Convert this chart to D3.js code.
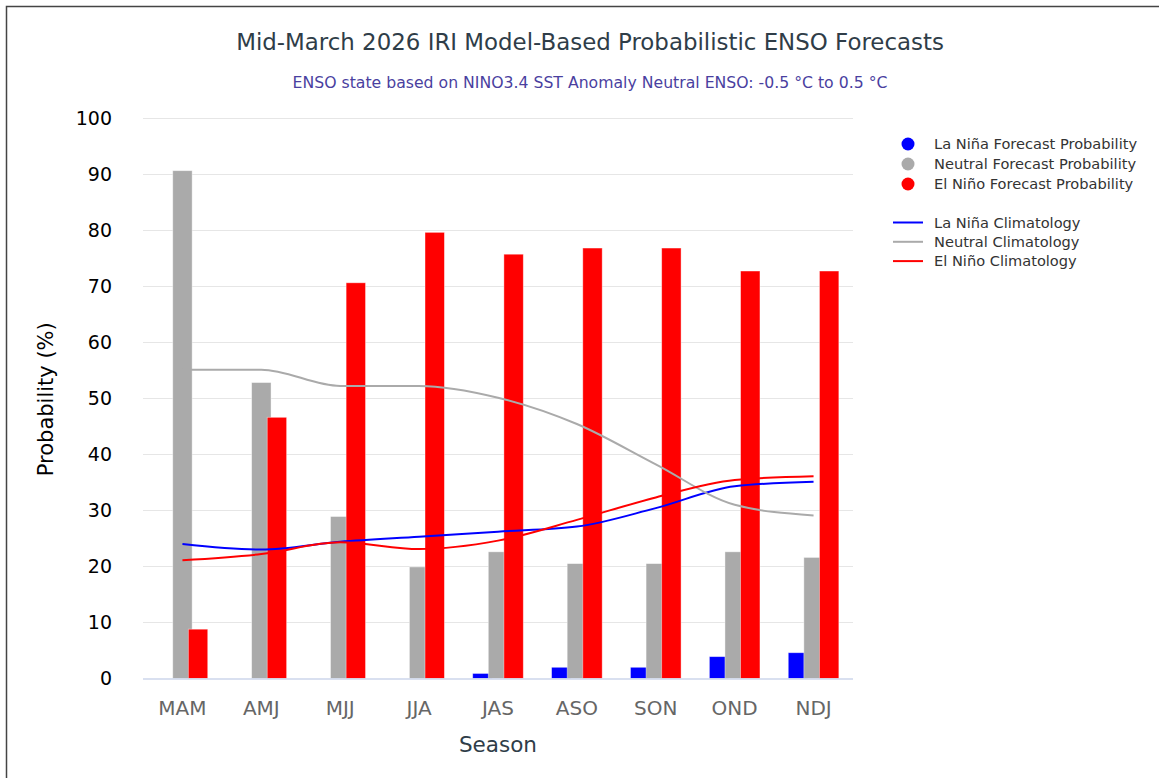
<!DOCTYPE html>
<html>
<head>
<meta charset="utf-8">
<script src="https://cdn.jsdelivr.net/npm/d3@7"></script>
<style>
  html, body { margin: 0; padding: 0; background: #fff; }
  svg { display: block; font-family: "DejaVu Sans", Verdana, sans-serif; }
</style>
</head>
<body>
<div id="chart"></div>
<script>
// seasons (x categories)
const seasons = ['MAM', 'AMJ', 'MJJ', 'JJA', 'JAS', 'ASO', 'SON', 'OND', 'NDJ'];

// forecast probabilities (%)
const laNinaForecast = [0, 0, 0, 0, 0.9, 2, 2, 3.9, 4.6];
const neutralForecast = [90.6, 52.8, 28.9, 19.9, 22.6, 20.5, 20.5, 22.6, 21.6];
const elNinoForecast = [8.8, 46.6, 70.6, 79.6, 75.7, 76.8, 76.8, 72.7, 72.7];

// climatology (%)
const laNinaClim = [24.0, 23.0, 24.4, 25.3, 26.2, 27.1, 30.4, 34.3, 35.1];
const neutralClim = [55.1, 55.1, 52.2, 52.2, 50.1, 45.4, 38.2, 31.0, 29.1];
const elNinoClim = [21.1, 22.2, 24.3, 23.1, 24.6, 28.3, 32.3, 35.4, 36.1];

const yTicks = [0, 10, 20, 30, 40, 50, 60, 70, 80, 90, 100];

const barSeries = [
  { name: 'La Niña Forecast Probability', values: laNinaForecast, color: '#0000ff' },
  { name: 'Neutral Forecast Probability', values: neutralForecast, color: '#aaaaaa' },
  { name: 'El Niño Forecast Probability', values: elNinoForecast, color: '#ff0000' },
];
const lineSeries = [
  { name: 'La Niña Climatology', values: laNinaClim, color: '#0000ff' },
  { name: 'Neutral Climatology', values: neutralClim, color: '#aaaaaa' },
  { name: 'El Niño Climatology', values: elNinoClim, color: '#ff0000' },
];

const width = 1159;
const height = 778;
const plot = { left: 143, right: 853, top: 118, bottom: 678.5 };

const svg = d3.select('#chart').append('svg')
  .attr('width', width)
  .attr('height', height);

/* frame of the original page */
svg.append('rect')
  .attr('x', 6.5).attr('y', 6.5)
  .attr('width', width + 20).attr('height', height + 20)
  .attr('fill', 'none')
  .attr('stroke', '#444')
  .attr('stroke-width', 1.5);

/* scales */
const x = d3.scaleBand().domain(seasons).range([plot.left, plot.right]).padding(0);
const y = d3.scaleLinear().domain([0, 100]).range([plot.bottom, plot.top]);

/* grid lines */
svg.append('g')
  .selectAll('line')
  .data(yTicks.filter(d => d > 0))
  .join('line')
  .attr('x1', plot.left).attr('x2', plot.right)
  .attr('y1', d => Math.round(y(d)) + 0.5).attr('y2', d => Math.round(y(d)) + 0.5)
  .attr('stroke', '#e6e6e6')
  .attr('stroke-width', 1);

/* y axis labels */
const yAxis = d3.axisLeft(y).tickValues(yTicks).tickSize(0).tickPadding(0);
svg.append('g')
  .attr('transform', 'translate(112,0)')
  .call(yAxis)
  .call(g => g.select('.domain').remove())
  .call(g => g.selectAll('text')
    .attr('font-family', '"DejaVu Sans", Verdana, sans-serif')
    .attr('font-size', 19)
    .attr('fill', '#000'));

svg.append('text')
  .attr('transform', `translate(53,${(plot.top + plot.bottom) / 2 + 1})rotate(-90)`)
  .attr('text-anchor', 'middle')
  .attr('font-size', 21)
  .attr('fill', '#000')
  .text('Probability (%)');

/* bars */
const barW = 19.4;
const offsets = [-15.6, 0, 15.6];
barSeries.forEach((s, i) => {
  svg.append('g')
    .selectAll('rect')
    .data(s.values.map((v, j) => ({ season: seasons[j], value: v })))
    .join('rect')
    .attr('x', d => x(d.season) + x.bandwidth() / 2 + offsets[i] - barW / 2)
    .attr('y', d => y(d.value))
    .attr('width', barW)
    .attr('height', d => y(0) - y(d.value))
    .attr('fill', s.color)
    .attr('stroke', '#fff')
    .attr('stroke-opacity', 0.5)
    .attr('stroke-width', 0.8);
});

/* x axis */
svg.append('line')
  .attr('x1', plot.left).attr('x2', plot.right)
  .attr('y1', plot.bottom + 0.5).attr('y2', plot.bottom + 0.5)
  .attr('stroke', '#ccd6eb')
  .attr('stroke-width', 1.5);

const xAxis = d3.axisBottom(x).tickSize(0).tickPadding(0);
svg.append('g')
  .attr('transform', `translate(0,${plot.bottom + 22})`)
  .call(xAxis)
  .call(g => g.select('.domain').remove())
  .call(g => g.selectAll('text')
    .attr('font-family', '"DejaVu Sans", Verdana, sans-serif')
    .attr('font-size', 20)
    .attr('fill', '#666'));

svg.append('text')
  .attr('x', (plot.left + plot.right) / 2)
  .attr('y', 752)
  .attr('text-anchor', 'middle')
  .attr('font-size', 21.5)
  .attr('fill', '#2f3d48')
  .text('Season');

/* climatology lines */
const line = d3.line()
  .x((d, j) => x(seasons[j]) + x.bandwidth() / 2)
  .y(d => y(d))
  .curve(d3.curveMonotoneX);

lineSeries.forEach(s => {
  svg.append('path')
    .datum(s.values)
    .attr('d', line)
    .attr('fill', 'none')
    .attr('stroke', s.color)
    .attr('stroke-width', 2);
});

/* titles */
svg.append('text')
  .attr('x', 590).attr('y', 50)
  .attr('text-anchor', 'middle')
  .attr('font-size', 22.9)
  .attr('fill', '#2f3d48')
  .text('Mid-March 2026 IRI Model-Based Probabilistic ENSO Forecasts');

svg.append('text')
  .attr('x', 590).attr('y', 87.5)
  .attr('text-anchor', 'middle')
  .attr('font-size', 15.7)
  .attr('fill', '#4a3f9f')
  .text('ENSO state based on NINO3.4 SST Anomaly Neutral ENSO: -0.5 °C to 0.5 °C');

/* legend */
const legend = svg.append('g').attr('font-size', 14.6).attr('fill', '#333');
barSeries.forEach((s, i) => {
  const ly = 144 + i * 20;
  legend.append('circle').attr('cx', 908).attr('cy', ly).attr('r', 6.5).attr('fill', s.color);
  legend.append('text').attr('x', 934).attr('y', ly + 5).text(s.name);
});
lineSeries.forEach((s, i) => {
  const ly = 222.5 + i * 19.3;
  legend.append('line')
    .attr('x1', 893).attr('x2', 923)
    .attr('y1', ly).attr('y2', ly)
    .attr('stroke', s.color).attr('stroke-width', 2);
  legend.append('text').attr('x', 934).attr('y', ly + 5).text(s.name);
});
</script>
</body>
</html>
